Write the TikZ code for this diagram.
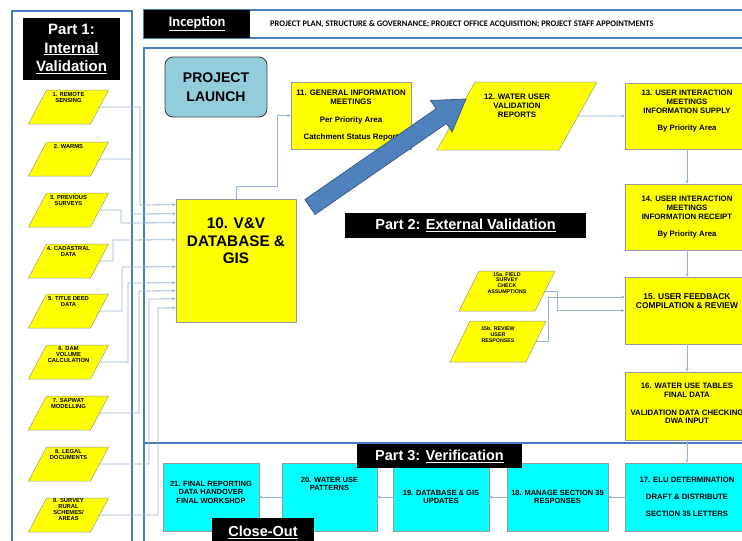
\documentclass[tikz,border=0pt]{standalone}
\usepackage{fontspec}
\setmainfont{Liberation Sans}
\newfontfamily\calfont{Carlito}
\usetikzlibrary{arrows.meta, shapes.geometric}
\definecolor{framebl}{HTML}{4A7EBB}
\definecolor{linkbl}{HTML}{95B3D7}
\definecolor{arrbl}{HTML}{4F81BD}
\definecolor{arredge}{HTML}{385D8A}
\definecolor{launchbl}{HTML}{92CDDC}
\definecolor{verifcy}{HTML}{00FFFF}
\definecolor{valyel}{HTML}{FFFF00}
\newcommand{\fs}[2]{\fontsize{#1}{#2}\selectfont}
% fixed-size box, text hung from the top
\newcommand{\tbox}[4]{\parbox[c][#2][t]{#1}{\centering\vspace*{#3}#4}}
\tikzset{
  ybox/.style  ={draw=black!40, fill=valyel, inner sep=0pt, line width=0.5pt,
                 font=\bfseries\fs{7.8}{8.9}},
  cbox/.style  ={draw=black!40, fill=verifcy, inner sep=0pt, line width=0.5pt,
                 font=\bfseries\fs{7.5}{8.5}},
  para/.style  ={trapezium, trapezium left angle=62, trapezium right angle=118,
                 draw=black!40, fill=valyel, inner sep=0pt, line width=0.5pt,
                 font=\bfseries\fs{5.8}{5.9}},
  tag/.style   ={fill=black, text=white, inner sep=0pt, align=center,
                 font=\bfseries\fs{14.5}{18}},
  link/.style  ={-{Stealth[length=3.5pt, width=3pt]}, draw=linkbl, line width=0.8pt},
  frm/.style   ={draw=framebl, line width=1.4pt},
}

\begin{document}
\begin{tikzpicture}[x=1pt, y=-1pt]
  \useasboundingbox (0,0) rectangle (742,541);
  % frames
  \draw[frm] (12,11) rectangle (132,570);
  \draw[frm] (144,10) rectangle (780,38);
  \draw[frm] (144,48) rectangle (780,570);
  \draw[frm] (144,443) -- (780,443);

  % inception band
  \node[tag, font=\calfont\bfseries\fs{14.5}{16}, minimum width=106pt,
    minimum height=28pt] (incep) at (197,24) {\underline{Inception}};
  \node[anchor=west, inner sep=0pt, font=\calfont\bfseries\fs{8.5}{10}] (plan)
    at (270,24) {PROJECT PLAN, STRUCTURE \& GOVERNANCE; PROJECT OFFICE
    ACQUISITION; PROJECT STAFF APPOINTMENTS};

  % part 1
  \node[tag, font=\bfseries\fs{15}{18.5}, minimum width=97pt, minimum height=62pt]
    (part1) at (71.5,49) {Part 1:\\\underline{Internal}\\\underline{Validation}};
  \node[para] (p1) at (68.5,107) {\tbox{44pt}{34pt}{2.5pt}{1. REMOTE\\SENSING}};
  \node[para] (p2) at (68.5,159) {\tbox{44pt}{34pt}{2.5pt}{2. WARMS}};
  \node[para] (p3) at (68.5,210) {\tbox{44pt}{34pt}{2.5pt}{3. PREVIOUS\\SURVEYS}};
  \node[para] (p4) at (68.5,261) {\tbox{44pt}{34pt}{2.5pt}{4. CADASTRAL\\DATA}};
  \node[para] (p5) at (68.5,311) {\tbox{44pt}{34pt}{2.5pt}{5. TITLE DEED\\DATA}};
  \node[para] (p6) at (68.5,362) {\tbox{44pt}{34pt}{1.5pt}{6. DAM\\VOLUME\\CALCULATION}};
  \node[para] (p7) at (68.5,413) {\tbox{44pt}{34pt}{2.5pt}{7. SAPWAT\\MODELLING}};
  \node[para] (p8) at (68.5,464) {\tbox{44pt}{34pt}{2.5pt}{8. LEGAL\\DOCUMENTS}};
  \node[para] (p9) at (68.5,515) {\tbox{44pt}{34pt}{0.5pt}{9. SURVEY\\RURAL\\SCHEMES/\\AREAS}};

  % part 2
  \node[draw=black!75, fill=launchbl, rounded corners=8pt, line width=0.9pt,
    minimum width=102pt, minimum height=60pt, align=center,
    font=\bfseries\fs{14}{18.5}] (launch) at (216,87) {PROJECT\\LAUNCH};
  \node[ybox, font=\bfseries\fs{15.3}{17.5}] (b10) at (236,260.5)
    {\tbox{120pt}{123pt}{19pt}{10. V\&V\\DATABASE \&\\GIS}};
  \node[ybox, font=\bfseries\fs{7.9}{9.2}] (b11) at (351,115.5)
    {\tbox{120pt}{67pt}{8pt}{11. GENERAL INFORMATION\\MEETINGS\\[8.5pt]Per
      Priority Area\\[7.5pt]Catchment Status Report}};
  \node[para, trapezium left angle=60.8, trapezium right angle=119.2,
    font=\bfseries\fs{7.9}{8.9}] (b12) at (517,116)
    {\tbox{84pt}{68pt}{12pt}{12. WATER USER\\VALIDATION\\REPORTS}};
  \node[ybox] (b13) at (687,116)
    {\tbox{124pt}{66pt}{7.5pt}{13. USER INTERACTION\\MEETINGS\\INFORMATION
      SUPPLY\\[8pt]By Priority Area}};
  \node[ybox] (b14) at (687,217)
    {\tbox{124pt}{66pt}{12pt}{14. USER INTERACTION\\MEETINGS\\INFORMATION
      RECEIPT\\[8pt]By Priority Area}};
  \node[ybox, font=\bfseries\fs{8.4}{8.8}] (b15) at (687,310.5)
    {\tbox{124pt}{67pt}{17pt}{15. USER FEEDBACK\\COMPILATION \& REVIEW}};
  \node[ybox, font=\bfseries\fs{7.8}{8.8}] (b16) at (687,406)
    {\tbox{124pt}{68pt}{11.5pt}{16. WATER USE TABLES\\FINAL DATA\\[8.5pt]VALIDATION
      DATA CHECKING\\DWA INPUT}};
  \node[para, trapezium left angle=63.4, trapezium right angle=116.6,
    font=\bfseries\fs{5.3}{5.7}] (p15a) at (507,291)
    {\tbox{56pt}{40pt}{1.5pt}{15a. FIELD\\SURVEY\\CHECK\\ASSUMPTIONS}};
  \node[para, trapezium left angle=64, trapezium right angle=116,
    font=\bfseries\fs{5.3}{5.8}] (p15b) at (498,341.5)
    {\tbox{56pt}{41pt}{6pt}{15b. REVIEW\\USER\\RESPONSES}};
  \node[tag, minimum width=241pt, minimum height=25pt] (part2) at (465.5,225.5)
    {Part 2: \underline{External Validation}};

  % part 3
  \node[cbox, font=\bfseries\fs{7.7}{8.5}] (b17) at (687,497)
    {\tbox{124pt}{68pt}{14.5pt}{17. ELU DETERMINATION\\[8.3pt]DRAFT \&
      DISTRIBUTE\\[8.3pt]SECTION 35 LETTERS}};
  \node[cbox] (b18) at (557.5,497)
    {\tbox{101pt}{68pt}{27pt}{18. MANAGE SECTION 35\\RESPONSES}};
  \node[cbox] (b19) at (441,497)
    {\tbox{96pt}{68pt}{27pt}{19. DATABASE \& GIS\\UPDATES}};
  \node[cbox] (b20) at (329.5,497)
    {\tbox{95pt}{68pt}{14pt}{20. WATER USE\\PATTERNS}};
  \node[cbox] (b21) at (211,497)
    {\tbox{96pt}{68pt}{18pt}{21. FINAL REPORTING\\DATA HANDOVER\\FINAL WORKSHOP}};
  \node[tag, minimum width=165pt, minimum height=24pt] (part3) at (439.5,456)
    {Part 3: \underline{Verification}};
  \node[tag, minimum width=102pt, minimum height=28pt] (closeout) at (263,532)
    {\underline{Close-Out}};

  % inputs into the database
  \draw[link] (p1.east) -| (140,205) -- ([yshift=-6pt]b10.north west);
  \draw[link] (p2.east) -| (131,214) -- ([yshift=-15pt]b10.north west);
  \draw[link] (p3.east) -| (121,223) -- ([yshift=-24pt]b10.north west);
  \draw[link] (p4.east) -| (113,240) -- ([yshift=-41pt]b10.north west);
  \draw[link] (p5.east) -| (122,267) -- ([yshift=-68pt]b10.north west);
  \draw[link] (p6.east) -| (128,283) -- ([yshift=-84pt]b10.north west);
  \draw[link] (p7.east) -| (139,291) -- ([yshift=-92pt]b10.north west);
  \draw[link] (p8.east) -| (149,299) -- ([yshift=-100pt]b10.north west);
  \draw[link] (p9.east) -| (158,308) -- ([yshift=-109pt]b10.north west);

  \draw[link] (b10.north) -- ++(0,-12) -| (277,115.5) -- (b11.west);
  \draw[link] (b12.east) -- (b13.west);
  \draw[link] (b13) -- (b14);
  \draw[link] (b14) -- (b15);
  \draw[link] (p15a.east) -- ++(12,0) |- (b15.west);
  \draw[link] (p15b.east) -- ++(12,0) |- ([yshift=13.5pt]b15.west);
  \draw[link] (b15) -- (b16);
  \draw[link] (b16) -- (b17);
  \draw[link] (b17) -- (b18);
  \draw[link] (b18) -- (b19);
  \draw[link] (b19) -- (b20);
  \draw[link] (b20) -- (b21);

  % big arrow towards the reports
  \filldraw[fill=arrbl, draw=arredge, line width=0.8pt]
    (315.1,214.4) -- (304.9,199.6) -- (436.2,108.7) -- (430.5,100.5)
    -- (466,99) -- (452.1,131.7) -- (446.4,123.5) -- cycle;
\end{tikzpicture}
\end{document}
